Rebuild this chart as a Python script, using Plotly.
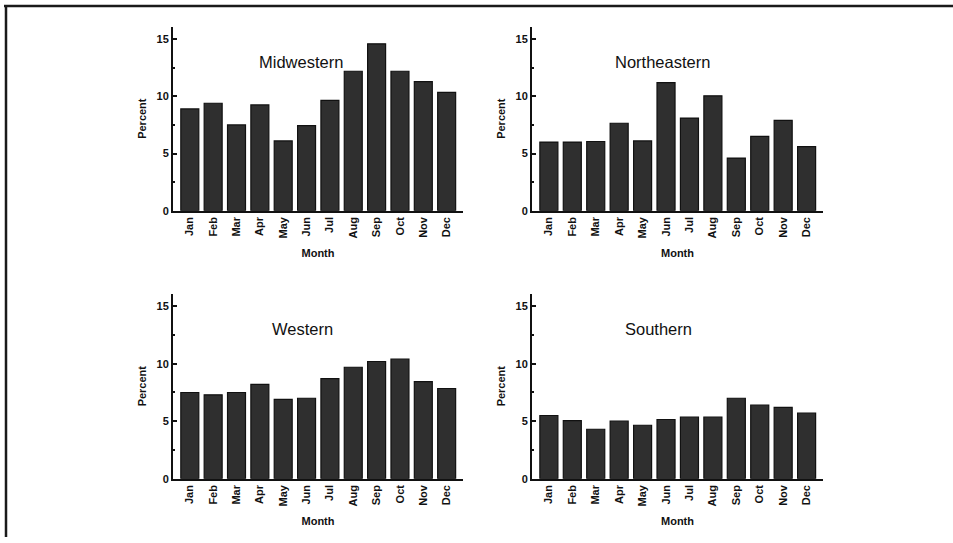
import plotly.graph_objects as go
from plotly.subplots import make_subplots

months = ["Jan", "Feb", "Mar", "Apr", "May", "Jun", "Jul", "Aug", "Sep", "Oct", "Nov", "Dec"]
midwestern = [8.9, 9.4, 7.5, 9.25, 6.1, 7.45, 9.65, 12.2, 14.6, 12.2, 11.3, 10.35]
northeastern = [6.0, 6.0, 6.05, 7.65, 6.1, 11.2, 8.1, 10.05, 4.6, 6.5, 7.9, 5.6]
western = [7.5, 7.3, 7.5, 8.2, 6.9, 7.0, 8.7, 9.7, 10.2, 10.4, 8.45, 7.85]
southern = [5.5, 5.05, 4.3, 5.0, 4.65, 5.15, 5.35, 5.35, 7.0, 6.4, 6.2, 5.7]
titles = ["Midwestern", "Northeastern", "Western", "Southern"]
y_ticks = [0, 5, 10, 15]

W, H = 953, 543
fig = make_subplots(rows=2, cols=2)

series = [midwestern, northeastern, western, southern]
pos = [(1, 1), (1, 2), (2, 1), (2, 2)]
# pixel geometry of plot areas
xdom_px = {1: (173, 463), 2: (532, 823)}
ydom_px = {1: (213, 27), 2: (484, 297)}
title_fx = [0.44, 0.447, 0.445, 0.433]

font = "Liberation Sans, Arial, Helvetica, sans-serif"

for i, (vals, (r, c)) in enumerate(zip(series, pos)):
    fig.add_trace(go.Bar(
        x=months, y=vals,
        marker=dict(color="#2f2f2f", line=dict(color="#111111", width=1.2)),
        width=0.77, showlegend=False, hoverinfo="x+y",
    ), row=r, col=c)
    x0, x1 = xdom_px[c]
    yb, yt = ydom_px[r]
    fig.update_xaxes(
        domain=[x0 / W, x1 / W], range=[-0.72, 11.7],
        showline=True, linecolor="#111", linewidth=2, ticks="",
        tickangle=-90, tickfont=dict(family=font, size=11, color="#111"),
        showgrid=False, zeroline=False,
        title=dict(text="<b>Month</b>", font=dict(family=font, size=11, color="#111"), standoff=12),
        row=r, col=c)
    fig.update_yaxes(
        domain=[1 - yb / H, 1 - yt / H], range=[0, 16.1],
        tickvals=y_ticks, ticktext=[f"<b>{v}</b>" for v in y_ticks],
        showline=True, linecolor="#111", linewidth=2,
        ticks="inside", ticklen=4, tickwidth=1.5, tickcolor="#111",
        minor=dict(tickvals=[2.5, 7.5, 12.5], ticks="inside", ticklen=2, tickwidth=1.5, tickcolor="#111"),
        tickfont=dict(family=font, size=11, color="#111"),
        showgrid=False, zeroline=False,
        title=dict(text="<b>Percent</b>", font=dict(family=font, size=11, color="#111"), standoff=8),
        row=r, col=c)
    n = i + 1
    xref = "x domain" if n == 1 else f"x{n} domain"
    yref = "y domain" if n == 1 else f"y{n} domain"
    fig.add_annotation(text=titles[i], xref=xref, yref=yref, x=title_fx[i], y=0.81,
                       showarrow=False, xanchor="center", yanchor="middle",
                       font=dict(family=font, size=16.5, color="#111"))

# bold month tick labels
for ax in ["xaxis", "xaxis2", "xaxis3", "xaxis4"]:
    fig.layout[ax].tickvals = months
    fig.layout[ax].ticktext = [f"<b>{m}</b>" for m in months]

# scanned page frame
fig.add_shape(type="line", xref="paper", yref="paper", x0=4 / W, x1=1, y0=1 - 6 / H, y1=1 - 6 / H,
              line=dict(color="#1a1a1a", width=2.5))
fig.add_shape(type="line", xref="paper", yref="paper", x0=6 / W, x1=6 / W, y0=0, y1=1 - 6 / H,
              line=dict(color="#1a1a1a", width=2.5))

fig.update_layout(
    width=W, height=H, margin=dict(l=0, r=0, t=0, b=0),
    paper_bgcolor="white", plot_bgcolor="rgba(0,0,0,0)",
    bargap=0.23, font=dict(family=font, color="#111"),
)

fig.write_html("out.html", config={"displayModeBar": False},
               post_script="document.body.style.margin='0';document.body.style.overflow='hidden';")
